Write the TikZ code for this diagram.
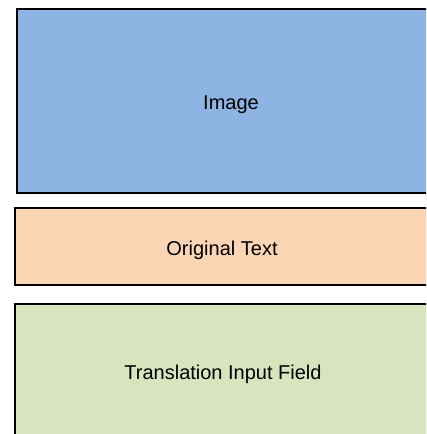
\documentclass[tikz,border=0pt]{standalone}
\usepackage{fontspec}
\setmainfont{Liberation Sans}
\usepackage{tikz}
\definecolor{imgblue}{HTML}{8EB4E3}
\definecolor{origpeach}{HTML}{FCD5B5}
\definecolor{transgreen}{HTML}{D7E4BD}
\tikzset{panel/.style={draw=black, line width=2pt, rectangle, inner sep=0pt, text height=18pt, text depth=1pt, font=\fontsize{20}{24}\selectfont}}

\begin{document}
\begin{tikzpicture}[x=1pt,y=-1pt]
   \useasboundingbox (0,0) rectangle (426,434);
   \clip (0,0) rectangle (426,434);
   \node[panel, fill=imgblue, minimum width=428pt, minimum height=184.5pt] (image) at (231,100.75) {Image};
   \node[panel, fill=origpeach, minimum width=414pt, minimum height=77pt] (orig) at (222,246.5) {Original Text};
   \node[panel, fill=transgreen, minimum width=416pt, minimum height=134pt] (trans) at (223,371) {Translation Input Field};
\end{tikzpicture}
\end{document}
